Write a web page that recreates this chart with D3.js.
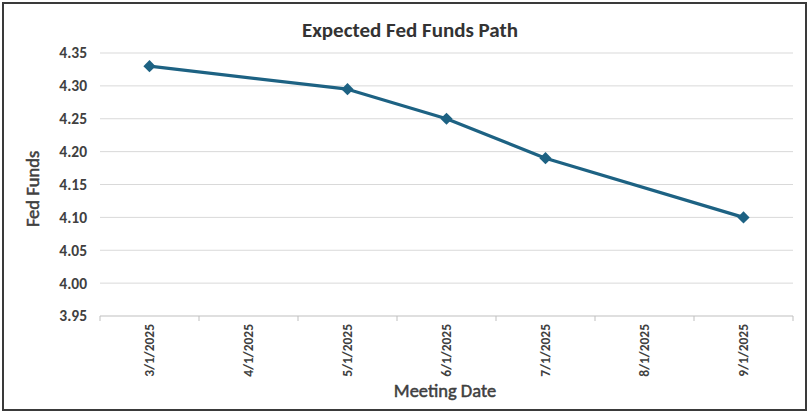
<!DOCTYPE html>
<html><head><meta charset="utf-8">
<script src="https://cdn.jsdelivr.net/npm/d3@7"></script>
<style>body{margin:0;background:#fff}svg{display:block}</style>
</head><body>
<script>
const categories = ["3/1/2025","4/1/2025","5/1/2025","6/1/2025","7/1/2025","8/1/2025","9/1/2025"];
const fedFunds = [4.33, null, 4.295, 4.25, 4.19, null, 4.10];
const yTicks = [3.95,4.00,4.05,4.10,4.15,4.20,4.25,4.30,4.35];
const title = "Expected Fed Funds Path";
const xTitle = "Meeting Date";
const yTitle = "Fed Funds";

const W = 810, H = 415;
const m = {left:100, right:17, top:53, bottom:99};
const svg = d3.select("body").append("svg").attr("width",W).attr("height",H);
svg.append("rect").attr("x",3).attr("y",3).attr("width",803).attr("height",407)
  .attr("fill","#fff").attr("stroke","#3a3a3a").attr("stroke-width",2);

const font = "Calibri, Carlito, 'Open Sans', sans-serif";
const x = d3.scaleBand().domain(categories).range([m.left, W-m.right]);
const y = d3.scaleLinear().domain([3.95,4.35]).range([H-m.bottom, m.top]);

// gridlines
svg.append("g").selectAll("line").data(yTicks.slice(1)).join("line")
  .attr("x1",m.left).attr("x2",W-m.right)
  .attr("y1",d=>y(d)).attr("y2",d=>y(d))
  .attr("stroke","#d9d9d9").attr("stroke-width",1);

// y labels
svg.append("g").selectAll("text").data(yTicks).join("text")
  .attr("x",87).attr("y",d=>y(d)).attr("dy","0.35em")
  .attr("text-anchor","end").attr("font-family",font).attr("font-weight","bold")
  .attr("font-size",15.5).attr("fill","#404040").text(d=>d3.format(".2f")(d));

// x axis
const xa = svg.append("g").attr("transform",`translate(0,${y(3.95)})`);
xa.append("line").attr("x1",m.left).attr("x2",W-m.right).attr("stroke","#bfbfbf");
const bounds = [m.left, ...categories.map(c=>x(c)+x.bandwidth())];
xa.selectAll("line.t").data(bounds).join("line").attr("class","t")
  .attr("x1",d=>d).attr("x2",d=>d).attr("y1",0).attr("y2",5).attr("stroke","#bfbfbf");
xa.selectAll("text").data(categories).join("text")
  .attr("transform",d=>`translate(${x(d)+x.bandwidth()/2+4.5},8) rotate(-90)`)
  .attr("text-anchor","end").attr("font-family",font).attr("font-weight","bold")
  .attr("font-size",13.5).attr("fill","#404040").text(d=>d);

// line
const pts = categories.map((c,i)=>({c, v:fedFunds[i]})).filter(d=>d.v!==null);
const line = d3.line().x(d=>x(d.c)+x.bandwidth()/2).y(d=>y(d.v));
svg.append("path").datum(pts).attr("d",line).attr("fill","none")
  .attr("stroke","#1d6283").attr("stroke-width",3.2).attr("stroke-linejoin","round");
svg.append("g").selectAll("path").data(pts).join("path")
  .attr("d",d3.symbol(d3.symbolDiamond2,95)())
  .attr("transform",d=>`translate(${x(d.c)+x.bandwidth()/2},${y(d.v)})`)
  .attr("fill","#1d6283");

// titles
svg.append("text").attr("x",410).attr("y",37).attr("text-anchor","middle")
  .attr("font-family",font).attr("font-weight","bold").attr("font-size",21)
  .attr("fill","#333333").text(title);
svg.append("text").attr("x",445).attr("y",397).attr("text-anchor","middle")
  .attr("font-family",font).attr("font-size",18.5)
  .attr("fill","#404040").attr("stroke","#404040").attr("stroke-width",0.5).text(xTitle);
svg.append("text").attr("transform","translate(39,189) rotate(-90)").attr("text-anchor","middle")
  .attr("font-family",font).attr("font-size",18.5)
  .attr("fill","#404040").attr("stroke","#404040").attr("stroke-width",0.5).text(yTitle);
</script>
</body></html>
